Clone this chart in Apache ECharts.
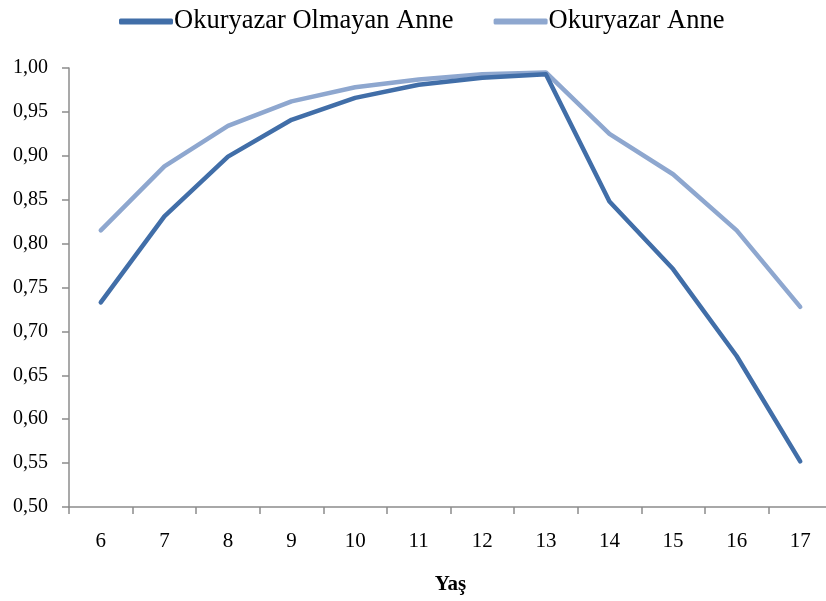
<!DOCTYPE html>
<html><head><meta charset="utf-8">
<script src="https://cdn.jsdelivr.net/npm/echarts@6/dist/echarts.min.js"></script>
<style>html,body{margin:0;padding:0;background:#fff;overflow:hidden}#c{width:832px;height:601px}</style>
</head><body><div id="c"></div>
<script>
var categories = ['6','7','8','9','10','11','12','13','14','15','16','17'];
var seriesNames = ['Okuryazar Olmayan Anne','Okuryazar Anne'];
var illiterateMother = [0.733,0.831,0.899,0.941,0.966,0.981,0.989,0.993,0.848,0.771,0.672,0.552];
var literateMother = [0.815,0.888,0.934,0.962,0.978,0.987,0.993,0.995,0.925,0.879,0.815,0.728];
var font = "'Liberation Serif', 'DejaVu Serif', serif";
var chart = echarts.init(document.getElementById('c'));
chart.setOption({
  animation:false,
  textStyle:{fontFamily:font},
  legend:{top:3,left:114,itemWidth:54,itemHeight:6,itemGap:40,icon:'roundRect',
    textStyle:{fontFamily:font,fontSize:26.5,color:'#000',padding:[0,0,0,-4]},
    data:seriesNames},
  grid:{left:69,right:0,top:68,bottom:94,containLabel:false},
  xAxis:{type:'category',data:categories,boundaryGap:true,
    name:'Yaş',nameLocation:'middle',nameGap:67,
    nameTextStyle:{fontFamily:font,fontSize:21,fontWeight:'bold',color:'#000'},
    axisLine:{lineStyle:{color:'#8c8c8c',width:1.5}},
    axisTick:{show:true,length:7,lineStyle:{color:'#8c8c8c',width:1.5}},
    axisLabel:{fontFamily:font,fontSize:21,color:'#000',margin:24}},
  yAxis:{type:'value',min:0.5,max:1.0,interval:0.05,
    axisLine:{show:true,lineStyle:{color:'#8c8c8c',width:1.5}},
    axisTick:{show:true,length:7,lineStyle:{color:'#8c8c8c',width:1.5}},
    splitLine:{show:false},
    axisLabel:{fontFamily:font,fontSize:20,color:'#000',margin:21,
      formatter:function(v){return v.toFixed(2).replace('.',',');}}},
  series:[
    {name:seriesNames[0],type:'line',data:illiterateMother,showSymbol:false,symbol:'none',
      lineStyle:{color:'#416ea8',width:4.5,cap:'round',join:'round'},itemStyle:{color:'#416ea8'},z:3},
    {name:seriesNames[1],type:'line',data:literateMother,showSymbol:false,symbol:'none',
      lineStyle:{color:'#8ea7cf',width:4.5,cap:'round',join:'round'},itemStyle:{color:'#8ea7cf'},z:2}
  ]
});
</script></body></html>
